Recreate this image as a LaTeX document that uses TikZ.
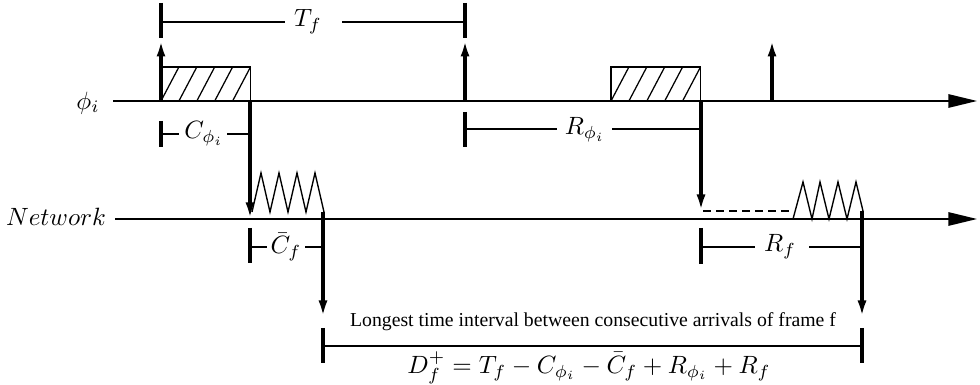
\documentclass[tikz,border=0pt]{standalone}
\usepackage{fontspec}
\newfontfamily\capfont{Liberation Serif}
\usetikzlibrary{arrows.meta}
\begin{document}
\begin{tikzpicture}[x=0.4pt,y=-0.4pt,
  thinline/.style={line width=0.55pt},
  thickline/.style={line width=1.6pt},
  axis/.style={line width=0.6pt,-{Triangle[length=11.5pt,width=5.4pt]}},
  evt/.style={line width=1.6pt,-{Latex[length=6.6pt,width=3.6pt]}},
  lbl/.style={inner sep=1pt},
  hatchbox/.style={line width=0.5pt},
  dashedline/.style={line width=0.55pt,dash pattern=on 3.2pt off 2pt}
]
\useasboundingbox (0,0) rectangle (980,385);
% axes
\coordinate (phiS) at (113,101); \coordinate (phiE) at (977,101);
\coordinate (netS) at (115,219); \coordinate (netE) at (977,219);
\node[lbl] (phil) at (88,103) {$\phi_i$};
\node[lbl] (netl) at (56,217) {$Network$};
\draw[axis] (phiS) -- (phiE);
\draw[axis] (netS) -- (netE);
% hatched execution boxes
\foreach \x in {161,611} {
  \draw[hatchbox] (\x,101) rectangle ++(89.5,-34);
  \foreach \k in {0,...,4}
    \draw[hatchbox] ({\x+\k*17.9},101) -- ++(17.9,-34);
}
% release arrows (up)
\coordinate (u1) at (161,101); \coordinate (u1t) at (161,40);
\coordinate (u2) at (465,101); \coordinate (u2t) at (465,40);
\coordinate (u3) at (772,101); \coordinate (u3t) at (772,40);
\draw[evt] (u1) -- (u1t);
\draw[evt] (u2) -- (u2t);
\draw[evt] (u3) -- (u3t);
% down arrows
\coordinate (d1) at (250,101); \coordinate (d1t) at (250,219);
\coordinate (d2) at (701,101); \coordinate (d2t) at (701,211);
\coordinate (d3) at (323,212); \coordinate (d3t) at (323,317);
\coordinate (d4) at (862,211); \coordinate (d4t) at (862,317);
\draw[evt] (d1) -- (d1t);
\draw[evt] (d2) -- (d2t);
\draw[evt] (d3) -- (d3t);
\draw[evt] (d4) -- (d4t);
% network transmissions
\draw[thinline] (252,212) -- (261,173) -- (270,212) -- (279,173) -- (288,212) -- (297,173) -- (306,212) -- (315,173) -- (324,212);
\draw[dashedline] (703,211) -- (793,211);
\draw[thinline] (793,219) -- (803,182) -- (812,219) -- (820,182) -- (829,219) -- (838,182) -- (847,219) -- (856,182) -- (863,211);
% T_f bracket
\draw[thickline] (161,3) -- (161,38);
\draw[thickline] (465,3) -- (465,38);
\node[lbl] (Tf) at (308,22) {$T_f$};
\draw[thinline] (161,22) -- (285,22);
\draw[thinline] (342,22) -- (465,22);
% C_phi bracket
\draw[thickline] (161,121) -- (161,147);
\node[lbl] (Cphi) at (204,134) {$C_{\phi_i}$};
\draw[thinline] (161,134) -- (179,134);
\draw[thinline] (227,134) -- (250,134);
% R_phi bracket
\draw[thickline] (465,112) -- (465,147);
\node[lbl] (Rphi) at (585,130) {$R_{\phi_i}$};
\draw[thinline] (465,129) -- (557,129);
\draw[thinline] (612,129) -- (701,129);
% Cbar_f bracket
\draw[thickline] (250,228) -- (250,263);
\node[lbl] (Cf) at (286,247) {$\bar{C}_f$};
\draw[thinline] (250,247) -- (267,247);
\draw[thinline] (305,247) -- (323,247);
% R_f bracket
\draw[thickline] (701,228) -- (701,264);
\node[lbl] (Rf) at (780,247) {$R_f$};
\draw[thinline] (701,247) -- (755,247);
\draw[thinline] (809,247) -- (862,247);
% D_f bracket
\draw[thickline] (323,328) -- (323,363);
\draw[thickline] (862,328) -- (862,363);
\draw[thinline] (323,346) -- (862,346);
\node[lbl,font=\capfont\fontsize{7.9}{9}\selectfont] (cap) at (593,322) {Longest time interval between consecutive arrivals of frame f};
\node[lbl] (form) at (589,368) {$D_f^+ = T_f - C_{\phi_i} - \bar{C}_f + R_{\phi_i} + R_f$};
\end{tikzpicture}
\end{document}
